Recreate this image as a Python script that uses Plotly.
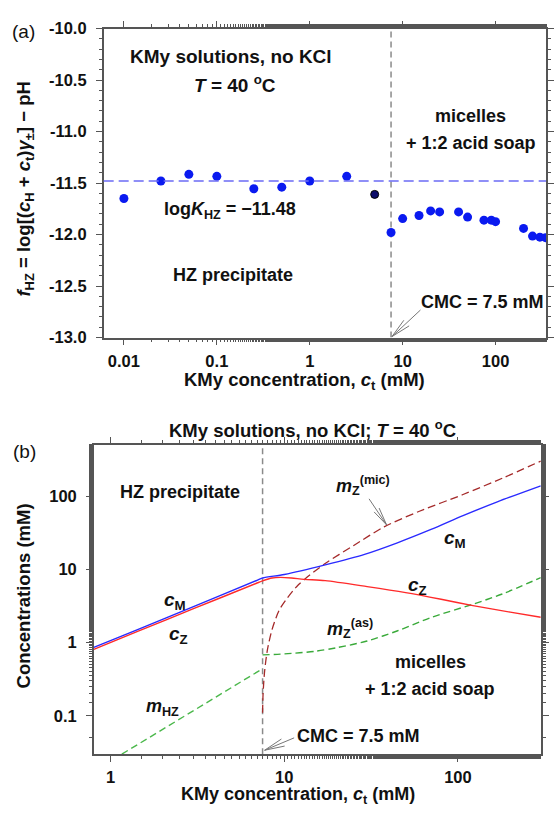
import math
import plotly.graph_objects as go

# ---------------- data: panel (a) ----------------
ct_a = [0.01, 0.025, 0.05, 0.1, 0.25, 0.5, 1, 2.5,
        7.5, 10, 15, 20, 25, 40, 50, 75, 90, 100, 200, 250, 300, 345]
f_hz = [-11.65, -11.48, -11.415, -11.435, -11.555, -11.54, -11.48, -11.435,
        -11.98, -11.845, -11.815, -11.77, -11.78, -11.78, -11.83, -11.86,
        -11.86, -11.875, -11.94, -12.015, -12.025, -12.03]
ct_dark = [5]
f_dark = [-11.61]
log_k_hz = -11.48
cmc = 7.5

# ---------------- data: panel (b) ----------------
cM_x = [0.8, 1.43, 3.0, 6.87, 7.5, 10, 17.2, 29, 44.8, 70, 107, 170, 300]
cM_y = [0.86, 1.50, 3.1, 6.98, 7.6, 8.5, 11.5, 16, 23, 35, 54, 84, 138]

cZ_x = [0.8, 1.43, 3.0, 6.87, 7.5, 8.5, 9.5, 11, 13, 17.2, 30, 50, 80, 122, 200, 300]
cZ_y = [0.81, 1.42, 2.9, 6.4, 6.95, 7.6, 7.75, 7.6, 7.3, 7.0, 5.8, 4.8, 3.9, 3.2, 2.6, 2.22]

mHZ_x = [1.16, 7.5]
mHZ_y = [0.03, 0.44]

mZas_x = [7.5, 10, 15, 20, 30, 45, 70, 120, 180, 300]
mZas_y = [0.68, 0.70, 0.76, 0.85, 1.05, 1.45, 2.2, 3.3, 4.6, 7.7]

mZmic_x = [7.5, 7.55, 7.7, 8.0, 8.5, 9.3, 10.2, 12.1, 17.2, 25, 37.6, 60, 107, 180, 300]
mZmic_y = [0.11, 0.2, 0.4, 0.8, 1.5, 2.7, 3.8, 6.2, 12.0, 21, 38, 62, 105, 175, 300]

# ---------------- figure setup ----------------
W, H = 554, 814
FONT = "Liberation Sans, Arial, sans-serif"
AX = "#555555"


def px(x, y):
    return x / W, 1 - y / H


fig = go.Figure()

# panel (a)
fig.add_trace(go.Scatter(x=[cmc, cmc], y=[-13, -10], mode="lines",
                         line=dict(color="#8a8a8a", width=1.5, dash="6px,4px"),
                         xaxis="x", yaxis="y", hoverinfo="skip"))
fig.add_trace(go.Scatter(x=ct_a, y=f_hz, mode="markers",
                         marker=dict(color="#0a1af0", size=9),
                         xaxis="x", yaxis="y"))
fig.add_trace(go.Scatter(x=ct_dark, y=f_dark, mode="markers",
                         marker=dict(color="#0c0c6a", size=8, line=dict(color="#000", width=1)),
                         xaxis="x", yaxis="y"))

# panel (b)
spl = dict(shape="spline", smoothing=0.8)
fig.add_trace(go.Scatter(x=[cmc, cmc], y=[0.03, 500], mode="lines",
                         line=dict(color="#8a8a8a", width=1.5, dash="6px,4px"),
                         xaxis="x2", yaxis="y2", hoverinfo="skip"))
fig.add_trace(go.Scatter(x=mHZ_x, y=mHZ_y, mode="lines",
                         line=dict(color="#4cb84c", width=1.4, dash="7px,4px"),
                         xaxis="x2", yaxis="y2"))
fig.add_trace(go.Scatter(x=mZas_x, y=mZas_y, mode="lines",
                         line=dict(color="#3aaa3a", width=1.4, dash="7px,4px", **spl),
                         xaxis="x2", yaxis="y2"))
fig.add_trace(go.Scatter(x=mZmic_x, y=mZmic_y, mode="lines",
                         line=dict(color="#a52a2a", width=1.3, dash="8px,4px", **spl),
                         xaxis="x2", yaxis="y2"))
fig.add_trace(go.Scatter(x=cZ_x, y=cZ_y, mode="lines",
                         line=dict(color="#ff2a2a", width=1.4, **spl),
                         xaxis="x2", yaxis="y2"))
fig.add_trace(go.Scatter(x=cM_x, y=cM_y, mode="lines",
                         line=dict(color="#2a2aff", width=1.4, **spl),
                         xaxis="x2", yaxis="y2"))

# horizontal log K line
fig.add_shape(type="line", xref="x domain", yref="y", x0=0, x1=1,
              y0=log_k_hz, y1=log_k_hz,
              line=dict(color="#6b6bf5", width=1.5, dash="10px,5px"))

tickfont = dict(family=FONT, size=16.5, color="#111", weight="bold")
common = dict(showline=True, linecolor=AX, linewidth=1.5, mirror="ticks",
              ticks="outside", ticklen=6, tickcolor=AX, tickwidth=1.2,
              showgrid=False, zeroline=False, tickfont=tickfont)

xa_dom = [105 / W, 553 / W]
ya_dom = [1 - 336 / H, 1 - 20 / H]
xb_dom = [95 / W, 547.7 / W]
yb_dom = [1 - 762 / H, 1 - 445.7 / H]

fig.update_layout(
    width=W, height=H, margin=dict(l=0, r=0, t=0, b=0),
    paper_bgcolor="white", plot_bgcolor="white", showlegend=False,
    xaxis=dict(domain=xa_dom, anchor="y", type="log",
               range=[-2.218, 2.543],
               tickvals=[0.01, 0.1, 1, 10, 100],
               ticktext=["0.01", "0.1", "1", "10", "100"],
               minor=dict(ticks="outside", ticklen=3, tickcolor=AX, showgrid=False),
               ticklabelstandoff=2, **common),
    yaxis=dict(domain=ya_dom, anchor="x", range=[-13, -10],
               tickvals=[-13, -12.5, -12, -11.5, -11, -10.5, -10],
               ticktext=["-13.0", "-12.5", "-12.0", "-11.5", "-11.0", "-10.5", "-10.0"],
               minor=dict(dtick=0.1, ticks="outside", ticklen=3, tickcolor=AX, showgrid=False),
               ticklabelstandoff=6, **common),
    xaxis2=dict(domain=xb_dom, anchor="y2", type="log",
                range=[math.log10(0.8), math.log10(300)],
                tickvals=[1, 10, 100], ticktext=["1", "10", "100"],
                minor=dict(ticks="outside", ticklen=3, tickcolor=AX, showgrid=False),
                ticklabelstandoff=1, **common),
    yaxis2=dict(domain=yb_dom, anchor="x2", type="log",
                range=[math.log10(0.03), math.log10(500)],
                tickvals=[0.1, 1, 10, 100], ticktext=["0.1", "1", "10", "100"],
                minor=dict(ticks="outside", ticklen=3, tickcolor=AX, showgrid=False),
                ticklabelstandoff=6, **common),
)

annots = []


def label(text, x, y, size=18, bold=True, angle=0):
    xx, yy = px(x, y)
    annots.append(dict(text=f"<b>{text}</b>" if bold else text, x=xx, y=yy,
                       xref="paper", yref="paper", showarrow=False,
                       xanchor="center", yanchor="middle", textangle=angle,
                       font=dict(family=FONT, size=size, color="#111")))


def chevron(tip, tail, wing=22, spread=11):
    tx, ty = px(*tip)
    dx, dy = tail[0] - tip[0], tail[1] - tip[1]
    segs = [(dx, dy)]
    ang = math.atan2(dy, dx)
    for s in (-spread, spread):
        a = ang + math.radians(s)
        segs.append((wing * math.cos(a), wing * math.sin(a)))
    for ax_, ay_ in segs:
        annots.append(dict(x=tx, y=ty, xref="paper", yref="paper", text="",
                           showarrow=True, arrowhead=0, arrowwidth=1,
                           arrowcolor="#777", ax=ax_, ay=ay_, standoff=0))


# panel (a) texts
label("(a)", 24, 23, size=19, bold=False)
label("KMy solutions, no KCl", 234, 49, size=19)
label("<i>T</i> = 40 <sup>o</sup>C", 238, 77, size=19)
label("micelles", 477, 109, size=18)
label("+ 1:2 acid soap", 477, 137, size=18)
label("log<i>K</i><sub>HZ</sub> = −11.48", 233, 206, size=18)
label("HZ precipitate", 236, 272, size=18)
label("CMC = 7.5 mM", 489, 300, size=18)
chevron((397, 335), (427, 307))
label("KMy concentration, <i>c</i><sub>t</sub> (mM)", 308, 380, size=18.5)
label("<i>f</i><sub>HZ</sub> = log[(<i>c</i><sub>H</sub> + <i>c</i><sub>t</sub>)<i>γ</i><sub>±</sub>] − pH",
      25, 184, size=18.5, angle=-90)

# panel (b) texts
label("(b)", 25, 453, size=19, bold=False)
label("KMy solutions, no KCl; <i>T</i> = 40 <sup>o</sup>C", 317, 429, size=18.5)
label("HZ precipitate", 182, 494, size=18)
label("<i>m</i><sub>Z</sub><sup>(mic)</sup>", 368, 487, size=18)
chevron((391.5, 527.5), (373, 500), wing=20, spread=10)
label("<i>c</i><sub>M</sub>", 461, 542, size=19)
label("<i>c</i><sub>Z</sub>", 423, 590, size=19)
label("<i>c</i><sub>M</sub>", 177, 605, size=19)
label("<i>c</i><sub>Z</sub>", 181, 640, size=19)
label("<i>m</i><sub>Z</sub><sup>(as)</sup>", 354, 634, size=18)
label("micelles", 436, 668, size=18)
label("+ 1:2 acid soap", 436, 695, size=18)
label("<i>m</i><sub>HZ</sub>", 165, 714, size=18)
label("CMC = 7.5 mM", 363, 743, size=18)
chevron((268, 758), (299, 745))
label("KMy concentration, <i>c</i><sub>t</sub> (mM)", 302, 804, size=18)
label("Concentrations (mM)", 24, 600, size=18.5, angle=-90)

fig.update_layout(annotations=annots)
fig.write_html("out.html")
